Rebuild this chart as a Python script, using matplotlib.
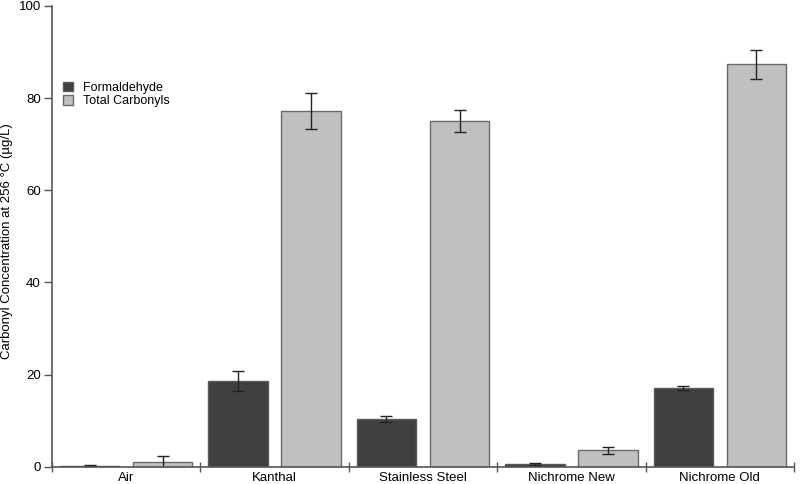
import matplotlib
matplotlib.use('Agg')
from matplotlib import pyplot as plt
import numpy as np

plt.rcParams['font.family'] = ['Liberation Sans', 'DejaVu Sans']

materials = ['Air', 'Kanthal', 'Stainless Steel', 'Nichrome New', 'Nichrome Old']
formaldehyde = [0.2, 18.6, 10.4, 0.6, 17.1]
formaldehyde_err = [0.1, 2.2, 0.6, 0.15, 0.4]
total_carbonyls = [1.1, 77.2, 75.0, 3.6, 87.3]
total_err = [1.3, 4.0, 2.4, 0.75, 3.1]

fig = plt.figure(figsize=(8, 4.84), dpi=100, facecolor='#ffffff')
ax = fig.add_axes([0.065, 0.0357, 0.9275, 0.952])

x = np.arange(len(materials)) + 0.5
w = 0.40
off = 0.246
err_kw = dict(ecolor='#222222', elinewidth=1.0, capsize=4, capthick=1.0)

ax.bar(x - off, formaldehyde, w, yerr=formaldehyde_err, color='#404040',
       edgecolor='#5a5a5a', linewidth=1.0, error_kw=err_kw, label='Formaldehyde')
ax.bar(x + off, total_carbonyls, w, yerr=total_err, color='#c0c0c0',
       edgecolor='#6a6a6a', linewidth=1.0, error_kw=err_kw, label='Total Carbonyls')

ax.set_xlim(0, len(materials))
ax.set_ylim(0, 100)

# group boundaries as ticks, names at group centres
ax.set_xticks(np.arange(len(materials) + 1))
ax.set_xticklabels([])
ax.tick_params(axis='x', which='major', direction='inout', length=7, width=1, color='#555555')
ax.set_xticks(x, minor=True)
ax.set_xticklabels(materials, minor=True, fontsize=9.5)
ax.tick_params(axis='x', which='minor', length=0, pad=4)

ax.set_yticks([0, 20, 40, 60, 80, 100])
ax.tick_params(axis='y', direction='out', length=6, width=1, color='#555555',
               labelsize=9.5, pad=2)
ax.set_ylabel('Carbonyl Concentration at 256 °C (µg/L)', fontsize=9.5)
ax.yaxis.set_label_coords(-0.052, 0.49)

for s in ['top', 'right']:
    ax.spines[s].set_visible(False)
for s in ['left', 'bottom']:
    ax.spines[s].set_color('#555555')
    ax.spines[s].set_linewidth(1.2)

ax.legend(loc='upper left', bbox_to_anchor=(0.0, 0.86), frameon=False, fontsize=9,
          handlelength=0.8, handleheight=0.8, handletextpad=0.8, labelspacing=0.1)

fig.savefig('out.png', dpi=100)
